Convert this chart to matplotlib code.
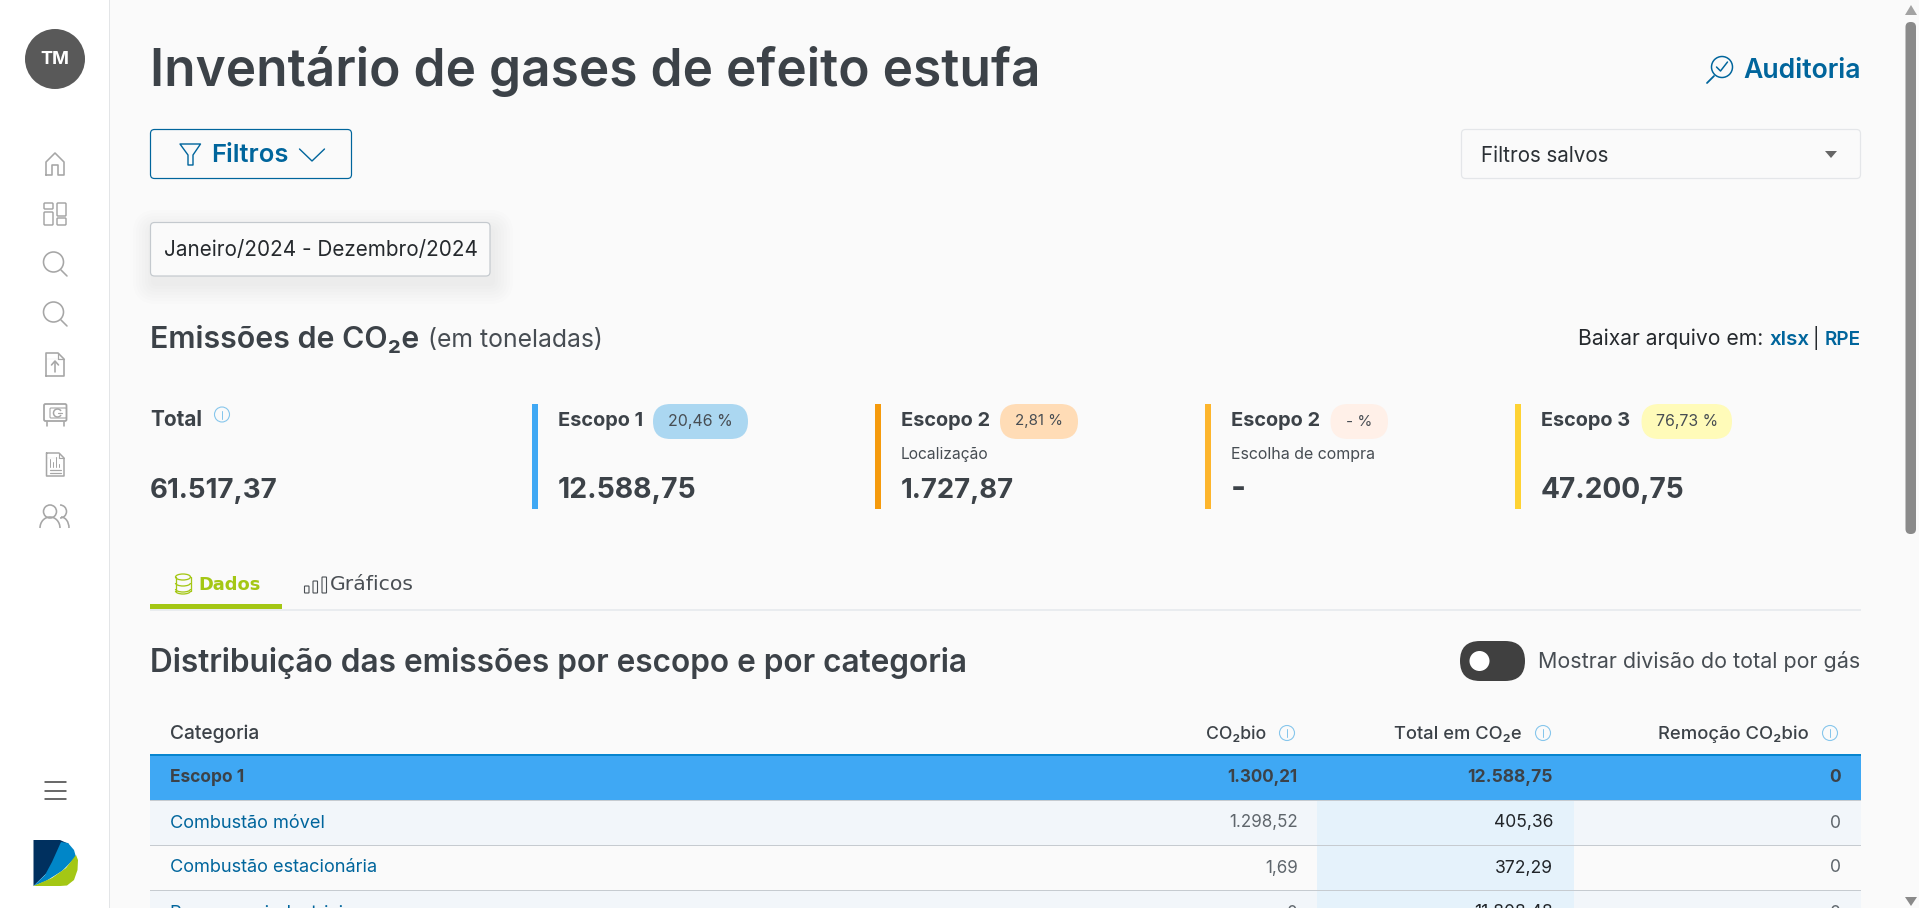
import matplotlib
matplotlib.use("Agg")
import matplotlib.pyplot as plt
from matplotlib.patches import Arc, Circle, FancyBboxPatch, Polygon, Rectangle

plt.rcParams['font.family'] = ['Inter', 'DejaVu Sans']

# page texts
page_title = "Inventário de gases de efeito estufa"
date_range = "Janeiro/2024 - Dezembro/2024"

# summary cards
card_names = ["Total", "Escopo 1", "Escopo 2", "Escopo 2", "Escopo 3"]
card_values = ["61.517,37", "12.588,75", "1.727,87", "-", "47.200,75"]
card_shares = [None, "20,46 %", "2,81 %", "- %", "76,73 %"]
card_notes = [None, None, "Localização", "Escolha de compra", None]

# table
table_header = ["Categoria", "CO₂bio", "Total em CO₂e", "Remoção CO₂bio"]
row_names = ["Escopo 1", "Combustão móvel", "Combustão estacionária", "Processos industriais"]
co2bio = ["1.300,21", "1.298,52", "1,69", "0"]
total_co2e = ["12.588,75", "405,36", "372,29", "11.808,48"]
removal = ["0", "0", "0", "0"]

DARK = '#3c4248'
BLUE = '#00659c'
GREY = '#a6a6a6'
GREEN = '#a4c714'
INFO = '#86c6ec'
SOFT = '#474d53'

fig = plt.figure(figsize=(19.19, 9.08), dpi=100, facecolor='#fafafa')
ax = fig.add_axes([0, 0, 1, 1])
ax.set_xlim(0, 1919)
ax.set_ylim(908, 0)
ax.axis('off')
renderer = fig.canvas.get_renderer()


def lw(px):
    return px * 0.72


def txt(x, y, s, px, color=DARK, weight='normal', ha='left', va='baseline', width=None, family=None):
    t = ax.text(x, y, s, fontsize=px * 0.72, color=color, weight=weight, ha=ha, va=va, zorder=5)
    if family is not None:
        t.set_family(family)
    if width is not None:
        # fit to the measured width, the page font is not installed
        w = t.get_window_extent(renderer).width
        t.set_fontsize(t.get_fontsize() * width / w)
    return t


def rect(x0, y0, x1, y1, color, z=1):
    ax.add_patch(Rectangle((x0, y0), x1 - x0, y1 - y0, fc=color, ec='none', zorder=z))


def rbox(x0, y0, x1, y1, r, fc='none', ec='none', px=1.0, z=2, alpha=None):
    ax.add_patch(FancyBboxPatch((x0, y0), x1 - x0, y1 - y0, boxstyle=f"round,pad=0,rounding_size={r}",
                                fc=fc, ec=ec, lw=lw(px), zorder=z, alpha=alpha))


def line(xs, ys, color=GREY, px=1.6, z=3):
    ax.plot(xs, ys, color=color, lw=lw(px), zorder=z, solid_capstyle='round', solid_joinstyle='round')


def ring(x, y, r, color=GREY, px=1.6, fc='none'):
    ax.add_patch(Circle((x, y), r, fc=fc, ec=color, lw=lw(px), zorder=3))


def info(x, y):
    ring(x, y, 7.5, INFO, 1.1)
    line([x, x], [y - 4, y + 4], INFO, 1.0)


def search_icon(cy):
    ring(53.5, cy, 10)
    line([61, 67], [cy + 8, cy + 14])


# sidebar
rect(0, 0, 109, 908, 'white')
rect(109, 0, 110, 908, '#e3e5e7')
ax.add_patch(Circle((55, 59), 30, fc='#595959', ec='none', zorder=3))
txt(55, 60, "TM", 20, 'white', 'bold', ha='center', va='center', width=29)

# home
line([46, 46, 55, 64, 64, 58, 58, 52, 52, 46], [175, 162, 153, 162, 175, 175, 165, 165, 175, 175])
# dashboard
for x0, y0, x1, y1 in [(44, 203, 53, 209), (44, 212, 53, 225), (57, 203, 66, 216), (57, 218, 66, 225)]:
    rbox(x0, y0, x1, y1, 1, ec=GREY, px=1.5)
search_icon(262)
search_icon(312)
# upload
line([46, 46, 58, 64, 64, 46], [353, 376, 376, 376, 359, 359], px=0.1)
line([46, 46, 58, 64, 64, 46], [376, 353, 353, 359, 376, 376])
line([58, 58, 64], [353, 359, 359], px=1.2)
line([55, 55], [372, 362])
line([51.5, 55, 58.5], [365, 361, 365])
# safe
rbox(44, 404, 66.5, 421, 1.5, ec=GREY, px=1.8)
line([47, 47], [422, 426])
line([63.5, 63.5], [422, 426])
rbox(50, 408, 66.5, 418, 1, ec=GREY, px=1.1)
ax.add_patch(Arc((57.5, 413), 8, 8, theta1=30, theta2=330, ec=GREY, lw=lw(1.5), zorder=3))
line([57.5, 61.5], [413, 413], px=1.2)
# report
line([46.5, 46.5, 59, 64, 64, 46.5], [453, 476, 476, 476, 458, 458], px=0.1)
line([46.5, 46.5, 64, 64, 59, 46.5], [453, 476, 476, 458, 453, 453], px=1.5)
line([59, 59, 64], [453, 458, 458], px=1.1)
for x, top in [(50, 459), (53, 462), (56, 457), (59, 464)]:
    line([x, x], [top, 467], px=1.0)
line([49.5, 61], [469.5, 469.5], px=1.2)
line([49.5, 61], [473, 473], px=1.2)
# users
ring(50, 511.5, 6.5)
ax.add_patch(Arc((50, 528), 20, 22, theta1=180, theta2=360, ec=GREY, lw=lw(1.6), zorder=3))
ax.add_patch(Arc((60, 511.5), 13, 13, theta1=-90, theta2=90, ec=GREY, lw=lw(1.6), zorder=3))
ax.add_patch(Arc((61, 528), 16, 22, theta1=270, theta2=360, ec=GREY, lw=lw(1.6), zorder=3))
# menu
for y in [782, 791, 799]:
    line([44.5, 65.5], [y, y], '#3a3a3a', 1.5)
# logo
ax.add_patch(Polygon([(33.5, 840), (60, 840), (69, 844), (58, 862), (33.5, 886)], fc='#00305f', ec='none', zorder=3))
ax.add_patch(Polygon([(61, 842), (68, 843), (74, 850), (76, 857), (62, 871), (46, 881), (33.5, 886),
                      (45, 875), (52, 862)], fc='#0086c8', ec='none', zorder=3))
ax.add_patch(Polygon([(33.5, 886), (52, 878), (66, 868), (76, 855), (78, 860), (77.5, 870), (74, 880), (67, 885.5),
                      (60, 886)], fc=GREEN, ec='none', zorder=3))

# heading row
txt(150, 86, page_title, 48, DARK, 'semibold', width=890)
ring(1722, 67, 10.5, BLUE, 1.5)
line([1716.5, 1720.5, 1727.5], [67, 71, 62], BLUE, 1.5)
line([1714, 1707], [76, 83], BLUE, 1.8)
txt(1743.5, 78, "Auditoria", 26, BLUE, 'semibold', width=118)

# filter controls
rbox(150.5, 129.5, 351.5, 178.5, 4, fc='none', ec=BLUE, px=1.2)
ax.add_patch(Polygon([(180, 144), (200.5, 144), (193, 155), (193, 165), (188, 165), (188, 155)],
                     fc='none', ec=BLUE, lw=lw(1.4), zorder=3, joinstyle='round'))
txt(211, 162, "Filtros", 24, BLUE, 'semibold', width=77)
line([299.5, 312, 324.5], [149, 161, 149], BLUE, 1.4)

rbox(1461.5, 129.5, 1860.5, 178.5, 4, fc='none', ec='#e4e6e9', px=1.2)
txt(1481, 162, "Filtros salvos", 20, '#2b3035', width=128)
ax.add_patch(Polygon([(1825, 151), (1837, 151), (1831, 158)], fc='#666666', ec='none', zorder=3))

# date chip with its shadow
for grow in range(20, 0, -3):
    rbox(150 - grow + 3, 230 - grow, 490 + grow + 3, 284 + grow, 4 + grow, fc='#70757a', z=1.5, alpha=0.011)
rbox(150.5, 222.5, 490, 276, 4, fc='#fafafa', ec='#c4c9ce', px=1.2)
txt(164, 256, date_range, 20, '#25292d', width=313)

# emissions heading
txt(150, 348, "Emissões de CO₂e", 28, DARK, 'semibold', width=269)
txt(428, 347, "(em toneladas)", 24, SOFT, 'normal', width=175)
txt(1578, 345, "Baixar arquivo em:", 20, '#25292d', width=185)
txt(1769, 345, "xlsx", 20, BLUE, 'semibold', width=40)
txt(1816, 345, "|", 20, '#25292d', ha='center')
txt(1825, 345, "RPE", 20, BLUE, 'semibold', width=36)

# cards
card_x = [150, 558, 901, 1231, 1541]
name_w = [52, 85, 89, 89, 89]
value_w = [128, 139, 113, 15, 144]
bar_x = [None, 532, 875, 1205, 1515]
bar_colors = [None, '#3fa8f4', '#f59a0c', '#fdb52c', '#fed233']
pill_x = [None, (653, 748), (1000, 1078), (1330.5, 1388), (1641.5, 1732)]
pill_w = [None, 64.5, 48, 26, 62]
pill_colors = [None, '#abd7f1', '#ffdcb6', '#fff0e8', '#fffbb9']
note_w = [None, None, 88, 145, None]
for i in range(5):
    txt(card_x[i], 426, card_names[i], 20, DARK, 'bold', width=name_w[i])
    txt(card_x[i], 498, card_values[i], 32, DARK, 'bold', width=value_w[i])
    if bar_x[i] is not None:
        rect(bar_x[i], 404, bar_x[i] + 6, 509, bar_colors[i])
    if card_shares[i] is not None:
        x0, x1 = pill_x[i]
        rbox(x0, 404, x1, 439, 17.5, fc=pill_colors[i])
        txt((x0 + x1) / 2, 421.5, card_shares[i], 16, SOFT, 'normal', ha='center', va='center', width=pill_w[i])
    if card_notes[i] is not None:
        txt(card_x[i], 459, card_notes[i], 14.4, SOFT, 'normal', width=note_w[i])
info(222, 414.5)

# tabs
for y in [577, 583, 589]:
    ax.add_patch(Arc((183, y), 15, 6, theta1=0, theta2=180, ec=GREEN, lw=lw(1.3), zorder=3))
ax.add_patch(Arc((183, 577), 15, 6, theta1=180, theta2=360, ec=GREEN, lw=lw(1.3), zorder=3))
ax.add_patch(Arc((183, 591), 15, 6, theta1=0, theta2=180, ec=GREEN, lw=lw(1.3), zorder=3))
line([175.5, 175.5], [577, 591], GREEN, 1.3)
line([190.5, 190.5], [577, 591], GREEN, 1.3)
txt(198, 590, "Dados", 18, GREEN, 'semibold', width=62, family='DejaVu Sans')
for x0, y0 in [(304.5, 586), (313, 581), (322, 577)]:
    rbox(x0, y0, x0 + 4.5, 593, 0.5, ec='#4a4f54', px=1.1)
txt(330, 590, "Gráficos", 18, '#4a4f54', 'normal', width=84, family='DejaVu Sans')
rect(150, 609, 1861, 611, '#e9ecef')
rect(150, 604, 282, 609, GREEN, 2)

# table heading
txt(150, 672, "Distribuição das emissões por escopo e por categoria", 28, DARK, 'semibold', width=818)
rbox(1460, 641, 1525, 681, 20, fc='#404040')
ax.add_patch(Circle((1479.5, 661), 10, fc='white', ec='none', zorder=3))
txt(1538, 668, "Mostrar divisão do total por gás", 20, SOFT, 'normal', width=322)

# table
txt(170, 739, table_header[0], 16, DARK, 'medium', width=89)
head_right = [1266, 1522, 1809]
head_w = [60, 127, 150]
for i in range(3):
    txt(head_right[i], 739, table_header[i + 1], 16, DARK, 'medium', ha='right', width=head_w[i])
    info(head_right[i] + 21, 733)

rect(150, 756, 1861, 800, '#3fa8f4')
rect(150, 754, 1861, 756, '#0785cf', 2)
row_tops = [800, 845, 890]
row_bg = ['#f2f6fa', '#fafafa', '#f2f6fa']
for top, bg in zip(row_tops, row_bg):
    rect(150, top, 1861, top + 45, bg)
    rect(1317, top, 1574, top + 45, '#e5f2fb', 1.2)
    rect(150, top, 1861, top + 1, '#c6cbd0', 2)

row_y = [778, 823, 868, 913]
for i, y in enumerate(row_y):
    top = i == 0
    txt(170, y, row_names[i], 17.4 if top else 18.2, DARK if top else BLUE, 'bold' if top else 'normal', va='center')
    txt(1297.5, y, co2bio[i], 17, DARK if top else '#5f666c', 'bold' if top else 'normal', ha='right', va='center')
    txt(1553, y, total_co2e[i], 17.5, DARK if top else '#212529', 'bold' if top else 'normal', ha='right', va='center')
    txt(1841, y, removal[i], 17.5, DARK if top else '#5f666c', 'bold' if top else 'normal', ha='right', va='center')

# scrollbar
rbox(1905.5, 22, 1916, 534, 5, fc='#8a8a8a')
ax.add_patch(Polygon([(1905, 15), (1917, 15), (1911, 5)], fc='#a3a3a3', ec='none', zorder=3))
ax.add_patch(Polygon([(1905, 897), (1917, 897), (1911, 906)], fc='#8a8a8a', ec='none', zorder=3))

fig.savefig("out.png", dpi=100, facecolor=fig.get_facecolor())
